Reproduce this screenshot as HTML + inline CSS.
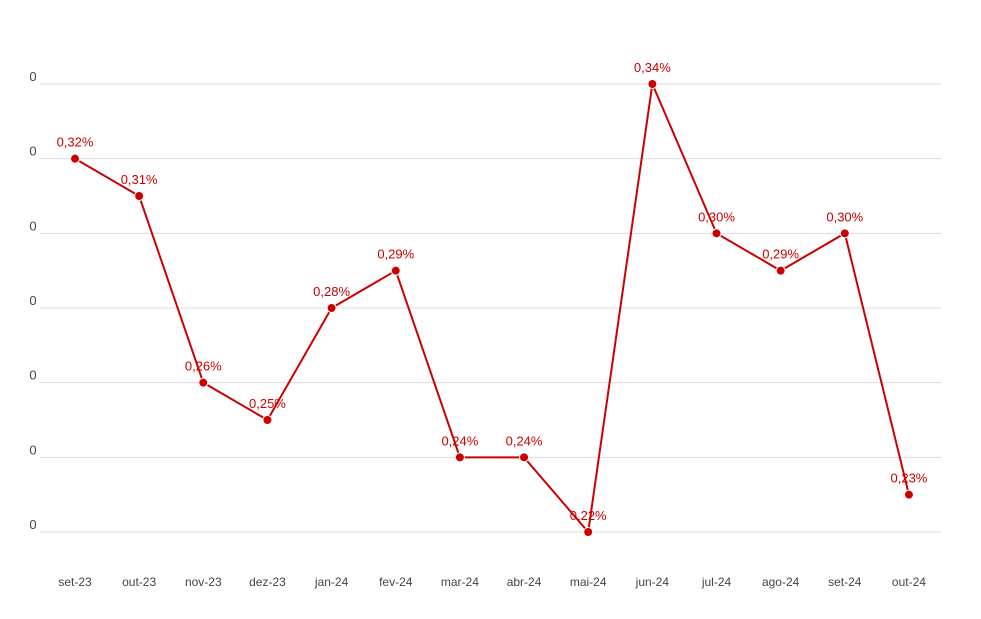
<!DOCTYPE html>
<html><head><meta charset="utf-8"><style>
body{margin:0;background:#fff;}
svg{display:block;font-family:"Liberation Sans",sans-serif;}
</style></head><body>
<svg id="chart" width="981" height="619"></svg>
<script>
const categories=["set-23","out-23","nov-23","dez-23","jan-24","fev-24","mar-24","abr-24","mai-24","jun-24","jul-24","ago-24","set-24","out-24"];
const values=[0.32,0.31,0.26,0.25,0.28,0.29,0.24,0.24,0.22,0.34,0.30,0.29,0.30,0.23];
const yTicks=[0.22,0.24,0.26,0.28,0.30,0.32,0.34];
const yTickLabels=["0","0","0","0","0","0","0"];
const NS="http://www.w3.org/2000/svg";
const svg=document.getElementById('chart');
function y(v){return 532-(v-0.22)/0.12*448;}
function x(i){return 75+i*64.15;}
function mk(t,a,p){const e=document.createElementNS(NS,t);for(const k in a)e.setAttribute(k,a[k]);(p||svg).appendChild(e);return e;}
yTicks.forEach((t,i)=>{
 const l=mk('line',{x1:40,x2:941,y1:y(t),y2:y(t),stroke:'#dcdcdc','stroke-width':1});
 
 
 const tx=mk('text',{x:33,y:y(t)-3,'font-size':13,fill:'#444','text-anchor':'middle'});
 tx.textContent=yTickLabels[i];
 
 
});
categories.forEach((c,i)=>{
 const tx=mk('text',{x:x(i),y:586,'font-size':12,fill:'#444','text-anchor':'middle'});
 tx.textContent=c;
 
 
});
const line=mk('polyline',{points:values.map((v,i)=>x(i)+','+y(v)).join(' '),fill:'none',stroke:'#cc0000','stroke-width':2});


values.forEach((v,i)=>{
 const c=mk('circle',{cx:x(i),cy:y(v),r:4.5,fill:'#cc0000',stroke:'#fff','stroke-width':1});
 
 
 const t=mk('text',{x:x(i),y:y(v)-12,'font-size':13,fill:'#cc0000','text-anchor':'middle'});
 t.textContent=v.toFixed(2).replace('.',',')+'%';
 
 
});
</script>
</body></html>
